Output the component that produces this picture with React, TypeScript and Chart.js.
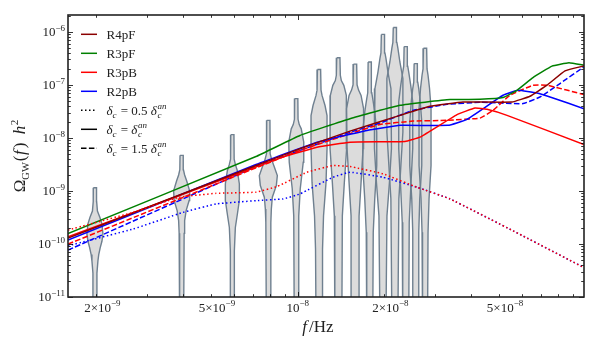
import React, { useEffect, useRef } from "react";
import { Chart, registerables } from "chart.js";

Chart.register(...registerables);

const FONT = "'Liberation Serif', 'Times New Roman', serif";

// ---------- axis ranges ----------
const X_MIN = 1.594e-9;
const X_MAX = 9.865e-8;
const Y_MIN = 1.0e-11;
const Y_MAX = 2.07e-6;

// ---------- model lines: [f (Hz), Omega_GW h^2] ----------
const R4PF_SOLID: [number, number][] = [
  [1.594e-9, 1.29e-10], [7.165e-9, 3.01e-9], [1.018e-8, 6.22e-9], [1.519e-8, 1.34e-8],
  [2.266e-8, 2.65e-8], [2.88e-8, 3.93e-8], [3.75e-8, 4.74e-8], [5.548e-8, 4.74e-8],
  [6.407e-8, 6.08e-8], [7.339e-8, 9.82e-8], [8.475e-8, 1.83e-7], [9.865e-8, 2.27e-7],
];
const R3PF_SOLID: [number, number][] = [
  [1.594e-9, 1.57e-10], [7.165e-9, 4.45e-9], [1.018e-8, 1.11e-8], [1.519e-8, 2.3e-8],
  [2.266e-8, 4.1e-8], [3.38e-8, 5.26e-8], [4.295e-8, 5.33e-8], [5.163e-8, 5.74e-8],
  [5.77e-8, 7.89e-8], [6.561e-8, 1.37e-7], [7.638e-8, 2.25e-7], [8.75e-8, 2.6e-7],
  [9.865e-8, 2.34e-7],
];
const R3PB_DOTTED: [number, number][] = [
  [1.594e-9, 1.83e-10], [2.68e-9, 3.94e-10], [3.87e-9, 7.57e-10], [5.204e-9, 9.0e-10],
  [7.165e-9, 9.48e-10], [8.48e-9, 1.21e-9], [1.077e-8, 2.25e-9], [1.326e-8, 3.01e-9],
  [1.519e-8, 2.88e-9], [1.978e-8, 2.1e-9], [2.596e-8, 1.17e-9], [3.38e-8, 7.05e-10],
  [5.593e-8, 1.77e-10], [9.865e-8, 3.58e-11],
];
const R3PB_SOLID: [number, number][] = [
  [1.594e-9, 1.36e-10], [7.165e-9, 2.82e-9], [8.89e-9, 4.36e-9], [1.167e-8, 6.68e-9],
  [1.519e-8, 8.3e-9], [2.358e-8, 8.55e-9], [2.659e-8, 1.03e-8], [3.574e-8, 2.74e-8],
  [4.127e-8, 3.65e-8], [4.543e-8, 3.45e-8], [5.331e-8, 2.65e-8], [9.865e-8, 7.51e-9],
];
const R3PB_DASHED: [number, number][] = [
  [1.594e-9, 9.93e-11], [7.165e-9, 2.72e-9], [1.018e-8, 5.78e-9], [1.519e-8, 1.2e-8],
  [1.931e-8, 1.79e-8], [2.513e-8, 2.07e-8], [3.3e-8, 2.14e-8], [4.295e-8, 2.36e-8],
  [4.766e-8, 3.3e-8], [5.461e-8, 6.35e-8], [6.561e-8, 9.82e-8], [7.339e-8, 9.82e-8],
  [9.865e-8, 6.55e-8],
];
const R2PB_DOTTED: [number, number][] = [
  [1.594e-9, 9.22e-11], [2.68e-9, 1.91e-10], [4.0e-9, 3.94e-10], [5.204e-9, 5.67e-10],
  [7.165e-9, 6.55e-10], [8.89e-9, 7.05e-10], [1.018e-8, 8.77e-10], [1.326e-8, 1.81e-9],
  [1.519e-8, 2.25e-9], [1.978e-8, 1.81e-9], [2.596e-8, 1.17e-9], [3.38e-8, 7.05e-10],
  [5.593e-8, 1.77e-10], [9.865e-8, 3.58e-11],
];
const R2PB_SOLID: [number, number][] = [
  [1.594e-9, 1.18e-10], [7.165e-9, 3.14e-9], [1.167e-8, 8.3e-9], [1.74e-8, 1.38e-8],
  [2.266e-8, 1.72e-8], [3.327e-8, 1.72e-8], [3.871e-8, 2.23e-8], [5.163e-8, 6.35e-8],
  [5.821e-8, 7.89e-8], [6.775e-8, 7.02e-8], [7.7e-8, 5.64e-8], [9.865e-8, 3.55e-8],
];
const R2PB_DASHED: [number, number][] = [
  [1.594e-9, 7.64e-11], [7.165e-9, 2.88e-9], [1.018e-8, 5.78e-9], [1.519e-8, 1.27e-8],
  [1.931e-8, 1.9e-8], [2.513e-8, 3.3e-8], [3.3e-8, 4.28e-8], [4.295e-8, 4.68e-8],
  [6.059e-8, 4.42e-8], [6.939e-8, 5.89e-8], [8.143e-8, 1.057e-7], [9.865e-8, 2.18e-7],
];

// ---------- legend / series meta ----------
const MODEL_NAMES = ["R4pF", "R3pF", "R3pB", "R2pB"];
const MODEL_COLORS = ["#8b0000", "#008000", "#ff0000", "#0000ff"];
const DELTA_COEFS = ["0.5", "", "1.5"]; // dotted, solid, dashed
const DASHES: Record<string, number[]> = { dotted: [1.5, 2.5], solid: [], dashed: [5.5, 2.4] };
const STYLE_ORDER = ["dotted", "solid", "dashed"];

const LINES = [
  { data: R3PB_DOTTED, model: 2, style: "dotted" },
  { data: R2PB_DOTTED, model: 3, style: "dotted" },
  { data: R4PF_SOLID, model: 0, style: "solid" },
  { data: R3PF_SOLID, model: 1, style: "solid" },
  { data: R3PB_SOLID, model: 2, style: "solid" },
  { data: R2PB_SOLID, model: 3, style: "solid" },
  { data: R3PB_DASHED, model: 2, style: "dashed" },
  { data: R2PB_DASHED, model: 3, style: "dashed" },
];

// ---------- NANOGrav-like free-spectrum violins ----------
const VIOLIN_FREQS = [
  1.977e-9, 3.954e-9, 5.931e-9, 7.908e-9, 9.885e-9, 1.186e-8, 1.384e-8,
  1.582e-8, 1.779e-8, 1.977e-8, 2.175e-8, 2.372e-8, 2.57e-8, 2.768e-8,
];
// [log10 Omega, density (arb. units)] from top to bottom
const VIOLIN_PROFILES: [number, number][][] = [
  [[-8.94, 1.6], [-9.2, 1.7], [-9.38, 2.5], [-9.5, 5], [-9.62, 7], [-9.81, 8], [-9.95, 7], [-10.07, 5.3], [-10.2, 3.8], [-10.32, 3], [-10.55, 2], [-11.5, 2]],
  [[-8.33, 1.6], [-8.6, 1.8], [-8.7, 3], [-8.81, 5], [-9.0, 8], [-9.18, 7.5], [-9.37, 4.5], [-9.56, 3], [-9.8, 2.5], [-11.5, 2]],
  [[-7.94, 1.6], [-8.4, 1.8], [-8.5, 3], [-8.62, 5], [-8.87, 7], [-9.18, 7], [-9.44, 5], [-9.69, 3], [-10.13, 2], [-11.5, 2]],
  [[-7.67, 1.6], [-8.3, 1.8], [-8.42, 3.5], [-8.55, 6], [-8.71, 9], [-8.9, 8], [-9.12, 4], [-9.34, 3], [-9.6, 2.5], [-11.5, 2]],
  [[-7.26, 1.6], [-7.65, 1.8], [-7.75, 3], [-7.83, 5], [-8.08, 7.5], [-8.46, 7], [-8.71, 5.5], [-8.96, 4], [-9.47, 2.5], [-11.5, 2]],
  [[-6.71, 1.6], [-7.1, 2], [-7.2, 3], [-7.39, 6], [-7.58, 8], [-8.2, 8], [-8.84, 7], [-9.47, 4.5], [-10.1, 3.5], [-11.5, 3]],
  [[-6.49, 1.6], [-6.82, 2], [-6.92, 3], [-7.01, 5.5], [-7.2, 8], [-8.2, 8.3], [-8.84, 6], [-9.47, 4], [-11.5, 3.5]],
  [[-6.61, 1.6], [-7.0, 2], [-7.1, 3.5], [-7.2, 6], [-7.45, 8.5], [-8.2, 8], [-8.84, 6], [-9.47, 4], [-11.5, 4]],
  [[-6.57, 1.6], [-7.15, 2], [-7.26, 3], [-7.51, 5], [-7.89, 7], [-8.52, 7], [-9.15, 5], [-9.78, 3.5], [-11.5, 3]],
  [[-6.05, 1.6], [-6.4, 2], [-6.5, 3], [-6.76, 5], [-7.07, 8], [-8.2, 8.5], [-8.84, 6.5], [-9.47, 4], [-11.5, 3]],
  [[-5.92, 1.6], [-6.2, 2], [-6.31, 3], [-6.57, 5], [-6.88, 8], [-7.89, 8], [-8.52, 6], [-9.15, 4], [-11.5, 3]],
  [[-6.28, 1.6], [-6.65, 2], [-6.76, 3], [-7.01, 5], [-7.32, 7], [-8.2, 7], [-8.96, 5], [-9.59, 3.5], [-11.5, 3]],
  [[-6.6, 1.6], [-6.95, 2], [-7.07, 3], [-7.32, 4.5], [-7.7, 6], [-8.52, 6], [-9.15, 4], [-9.78, 3], [-11.5, 3]],
  [[-6.31, 1.6], [-6.7, 2], [-6.82, 3], [-7.07, 4.5], [-7.45, 6], [-8.52, 6], [-9.15, 4], [-9.78, 3], [-11.5, 2.5]],
];
const VIOLIN_WIDTH = 1 / 288; // decades of f per density unit

// ---------- ticks ----------
const X_TICKS = [2e-9, 3e-9, 4e-9, 5e-9, 6e-9, 7e-9, 8e-9, 9e-9, 1e-8, 2e-8, 3e-8, 4e-8, 5e-8, 6e-8, 7e-8, 8e-8, 9e-8];
const X_MAJOR = [1e-8];
const X_LABELS: { v: number; m: string; e: string }[] = [
  { v: 2e-9, m: "2×10", e: "−9" },
  { v: 5e-9, m: "5×10", e: "−9" },
  { v: 1e-8, m: "10", e: "−8" },
  { v: 2e-8, m: "2×10", e: "−8" },
  { v: 5e-8, m: "5×10", e: "−8" },
];
const Y_DECADES = [-11, -10, -9, -8, -7, -6];
const Y_LABELS = Y_DECADES.map((d) => ({ v: Math.pow(10, d), m: "10", e: "−" + String(-d) }));
const Y_TICKS: number[] = [];
Y_DECADES.forEach((d) => {
  for (let k = 1; k <= 9; k++) {
    const v = k * Math.pow(10, d);
    if (v >= Y_MIN * 0.999 && v <= Y_MAX) Y_TICKS.push(v);
  }
});

// ---------- helpers ----------
type Piece = { t: string; size?: number; it?: boolean; dy?: number; adv?: boolean; extra?: number };
const fontOf = (p: Piece, base: number) => `${p.it ? "italic " : ""}${p.size ?? base}px ${FONT}`;
function drawRich(ctx: CanvasRenderingContext2D, pieces: Piece[], x: number, y: number, align: string, base: number) {
  const ws = pieces.map((p) => {
    ctx.font = fontOf(p, base);
    return ctx.measureText(p.t).width + (p.extra ?? 0);
  });
  let total = 0;
  pieces.forEach((p, i) => { if (p.adv !== false) total += ws[i]; });
  let cx = align === "left" ? x : align === "center" ? x - total / 2 : x - total;
  ctx.textAlign = "left";
  ctx.textBaseline = "alphabetic";
  pieces.forEach((p, i) => {
    ctx.font = fontOf(p, base);
    ctx.fillText(p.t, cx, y + (p.dy ?? 0));
    if (p.adv !== false) cx += ws[i];
  });
}

function violinPoints(f: number, prof: [number, number][]) {
  const left = prof.map(([lg, w]) => ({ x: f * Math.pow(10, -w * VIOLIN_WIDTH), y: Math.pow(10, lg) }));
  const right = prof.slice().reverse().map(([lg, w]) => ({ x: f * Math.pow(10, w * VIOLIN_WIDTH), y: Math.pow(10, lg) }));
  return [...left, ...right, left[0]];
}

const decorPlugin = {
  id: "decor",
  afterDraw(chart: any) {
    const { ctx, chartArea: a, scales } = chart;
    const xs = scales.x, ys = scales.y;
    ctx.save();
    ctx.fillStyle = "#000";
    ctx.strokeStyle = "#000";
    ctx.lineWidth = 0.8;
    ctx.setLineDash([]);
    for (const t of xs.ticks) {
      const px = Math.round(xs.getPixelForValue(t.value)) + 0.5;
      const len = X_MAJOR.includes(t.value) ? 5 : 2.8;
      ctx.beginPath();
      ctx.moveTo(px, a.bottom); ctx.lineTo(px, a.bottom - len);
      ctx.moveTo(px, a.top); ctx.lineTo(px, a.top + len);
      ctx.stroke();
    }
    for (const t of ys.ticks) {
      const py = Math.round(ys.getPixelForValue(t.value)) + 0.5;
      const major = Math.abs(Math.log10(t.value) - Math.round(Math.log10(t.value))) < 1e-6;
      const len = major ? 5 : 2.8;
      ctx.beginPath();
      ctx.moveTo(a.left, py); ctx.lineTo(a.left + len, py);
      ctx.moveTo(a.right, py); ctx.lineTo(a.right - len, py);
      ctx.stroke();
    }
    ctx.lineWidth = 1.6;
    ctx.strokeStyle = "#222";
    ctx.strokeRect(a.left, a.top, a.right - a.left, a.bottom - a.top);

    ctx.fillStyle = "#222";
    for (const t of xs.ticks) {
      const lab = X_LABELS.find((l) => Math.abs(l.v - t.value) / l.v < 1e-6);
      if (!lab) continue;
      const px = xs.getPixelForValue(t.value) + (lab.m.length > 2 ? 6 : 0);
      drawRich(ctx, [{ t: lab.m }, { t: lab.e, size: 9, dy: -6 }], px, a.bottom + 15, "center", 13);
    }
    for (const t of ys.ticks) {
      const lab = Y_LABELS.find((l) => Math.abs(l.v - t.value) / l.v < 1e-6);
      if (!lab) continue;
      const py = ys.getPixelForValue(t.value);
      drawRich(ctx, [{ t: lab.m }, { t: lab.e, size: 9, dy: -5.5 }], a.left - 3, py + 4.3, "right", 13);
    }
    drawRich(ctx, [{ t: "f", it: true, extra: 2 }, { t: "/" }, { t: "Hz" }], 318, 332, "center", 17);
    ctx.save();
    ctx.translate(25, (a.top + a.bottom) / 2);
    ctx.rotate(-Math.PI / 2);
    drawRich(ctx, [
      { t: "Ω" }, { t: "GW", size: 10.5, dy: 3.5, extra: 1 }, { t: "(", extra: 0.5 }, { t: "f", it: true, extra: 2 },
      { t: ")" }, { t: "  " }, { t: "h", it: true, extra: 0.5 }, { t: "2", size: 11, dy: -7 },
    ], 0, 0, "center", 17);
    ctx.restore();

    const rowY0 = 34.3, rowH = 19, x0 = 81, x1 = 97, tx = 106.5;
    const rows: { color: string; dash: number[]; pieces: Piece[] }[] = [];
    MODEL_NAMES.forEach((n, i) => rows.push({ color: MODEL_COLORS[i], dash: [], pieces: [{ t: n }] }));
    STYLE_ORDER.forEach((s, i) => {
      const coef = DELTA_COEFS[i];
      rows.push({
        color: "#000",
        dash: DASHES[s],
        pieces: [
          { t: "δ", it: true }, { t: "c", it: true, size: 9, dy: 3, extra: 1 },
          { t: coef ? ` = ${coef} ` : " = " },
          { t: "δ", it: true, extra: 0.5 }, { t: "c", it: true, size: 9, dy: 3, adv: false }, { t: "an", it: true, size: 9, dy: -5.5 },
        ],
      });
    });
    rows.forEach((r, i) => {
      const y = rowY0 + i * rowH;
      ctx.strokeStyle = r.color;
      ctx.lineWidth = 1.5;
      ctx.setLineDash(r.dash);
      ctx.beginPath();
      ctx.moveTo(x0, y); ctx.lineTo(x1, y);
      ctx.stroke();
      ctx.setLineDash([]);
      ctx.fillStyle = "#222";
      drawRich(ctx, r.pieces, tx, y + 4.5, "left", 13);
    });
    ctx.restore();
  },
};

export default function App() {
  const ref = useRef<HTMLCanvasElement>(null);
  useEffect(() => {
    const canvas = ref.current!;
    const datasets: any[] = [];
    LINES.forEach((l) => {
      datasets.push({
        label: MODEL_NAMES[l.model] + " " + l.style,
        data: l.data.map(([x, y]) => ({ x, y })),
        borderColor: MODEL_COLORS[l.model],
        backgroundColor: MODEL_COLORS[l.model],
        borderWidth: 1.5,
        borderDash: DASHES[l.style],
        pointRadius: 0,
        fill: false,
        tension: 0.1,
        order: 0,
      });
    });
    VIOLIN_FREQS.forEach((f, i) => {
      datasets.push({
        label: "violin " + (i + 1),
        data: violinPoints(f, VIOLIN_PROFILES[i]),
        borderColor: "#6f8090",
        backgroundColor: "#dcdcdc",
        borderWidth: 1.4,
        pointRadius: 0,
        fill: "shape",
        tension: 0,
        order: 1,
      });
    });
    const chart = new Chart(canvas, {
      type: "line",
      data: { datasets },
      options: {
        animation: false,
        responsive: false,
        devicePixelRatio: 1,
        events: [],
        layout: { padding: { left: 68, right: 16, top: 15, bottom: 53 } },
        scales: {
          x: {
            type: "logarithmic",
            min: X_MIN,
            max: X_MAX,
            bounds: "data",
            grid: { display: false, drawTicks: false },
            border: { display: false },
            ticks: { display: false },
            afterBuildTicks: (s: any) => { s.ticks = X_TICKS.map((v) => ({ value: v })); },
            afterFit: (s: any) => { s.height = 0; },
          },
          y: {
            type: "logarithmic",
            min: Y_MIN,
            max: Y_MAX,
            bounds: "data",
            grid: { display: false, drawTicks: false },
            border: { display: false },
            ticks: { display: false },
            afterBuildTicks: (s: any) => { s.ticks = Y_TICKS.map((v) => ({ value: v })); },
            afterFit: (s: any) => { s.width = 0; },
          },
        },
        plugins: {
          legend: { display: false },
          tooltip: { enabled: false },
          filler: { propagate: false, drawTime: "beforeDatasetsDraw" },
        } as any,
      } as any,
      plugins: [decorPlugin],
    });
    return () => chart.destroy();
  }, []);
  return (
    <div style={{ position: "fixed", left: 0, top: 0, width: 600, height: 350, background: "#fff" }}>
      <canvas ref={ref} width={600} height={350} style={{ display: "block", width: 600, height: 350 }} />
    </div>
  );
}
